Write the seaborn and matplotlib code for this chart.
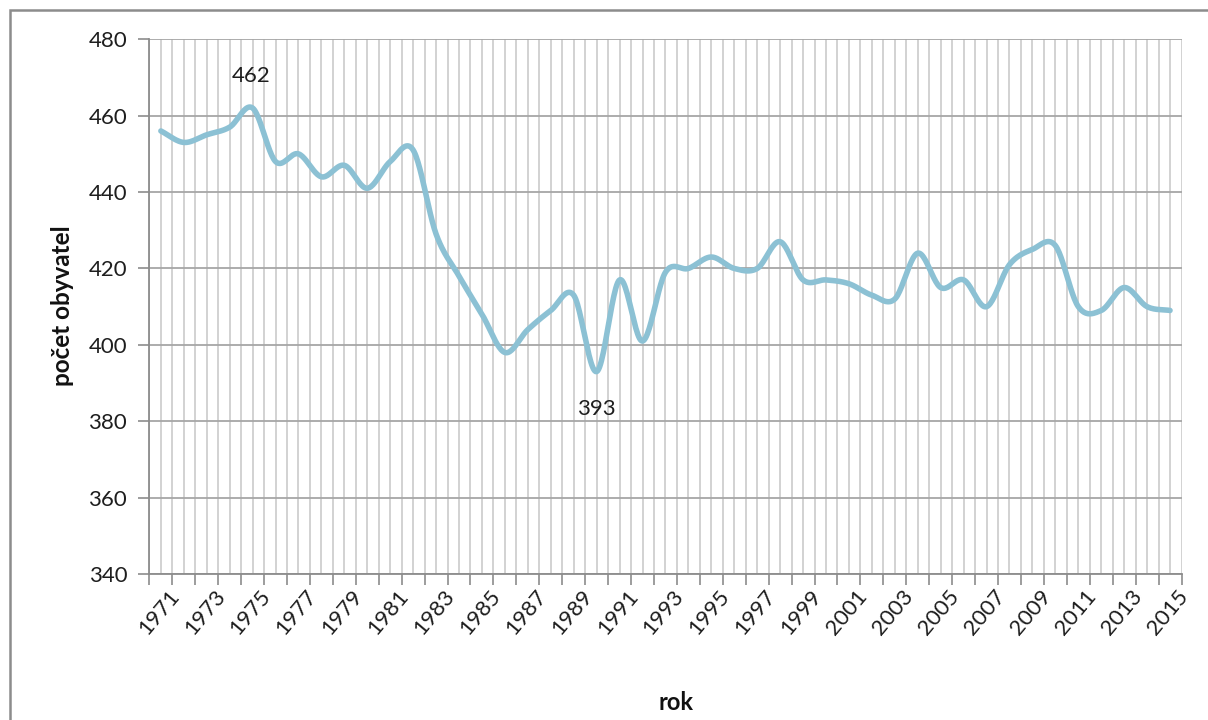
import numpy as np
import pandas as pd
import matplotlib
matplotlib.use("Agg")
import matplotlib.pyplot as plt
import matplotlib.patches as patches
import matplotlib.transforms as mtransforms
import seaborn as sns

# population of the village per year
years = list(range(1971, 2016))
population = [
    456, 453, 455, 457, 462, 448, 450, 444, 447, 441,
    448, 451, 429, 418, 408, 398, 404, 409, 413, 393,
    417, 401, 419, 420, 423, 420, 420, 427, 417, 417,
    416, 413, 412, 424, 415, 417, 410, 421, 425, 426,
    410, 409, 415, 410, 409,
]
y_ticks = [340, 360, 380, 400, 420, 440, 460, 480]
label_years = years[::2]

LINE_COLOR = "#8cc1d4"
GRID_DARK = "#a6a6a6"
GRID_LIGHT = "#cfcfcf"
AXIS_GRAY = "#8c8c8c"
TEXT = "#1e1e1e"


def smooth_line(x, y, n=24):
    """Excel-like smoothed line (cubic Hermite / Catmull-Rom through the points)."""
    x = np.asarray(x, dtype=float)
    y = np.asarray(y, dtype=float)
    m = np.gradient(y)
    t = np.linspace(0, 1, n, endpoint=False)
    h00 = 2 * t**3 - 3 * t**2 + 1
    h10 = t**3 - 2 * t**2 + t
    h01 = -2 * t**3 + 3 * t**2
    h11 = t**3 - t**2
    xs, ys = [], []
    for i in range(len(x) - 1):
        xs.append(x[i] + t * (x[i + 1] - x[i]))
        ys.append(h00 * y[i] + h10 * m[i] + h01 * y[i + 1] + h11 * m[i + 1])
    xs.append([x[-1]])
    ys.append([y[-1]])
    return np.concatenate(xs), np.concatenate(ys)


sns.set_theme(style="white")
plt.rcParams["font.family"] = ["Lato", "DejaVu Sans"]

fig = plt.figure(figsize=(12.08, 7.2), dpi=100)
ax = fig.add_axes([149.4 / 1208, 1 - 574 / 720, (1181.5 - 149.4) / 1208, (574 - 39.3) / 720])

# gridlines: every half category vertically, every 20 horizontally
for gx in np.arange(years[0] - 0.5, years[-1] + 0.51, 0.5):
    ax.axvline(gx, color=GRID_LIGHT, lw=1.3, zorder=0)
for gy in y_ticks:
    ax.axhline(gy, color=GRID_DARK, lw=1.3, zorder=0)

sx, sy = smooth_line(years, population)
curve = pd.DataFrame({"rok": sx, "obyvatel": sy})
sns.lineplot(data=curve, x="rok", y="obyvatel", color=LINE_COLOR, lw=4.0,
             ax=ax, zorder=3, solid_capstyle="round")

# labels for max / min
i_max = int(np.argmax(population))
i_min = int(np.argmin(population))
ax.annotate(str(population[i_max]), xy=(years[i_max], population[i_max]),
            xytext=(-1, 23), textcoords="offset points", ha="center", va="center",
            fontsize=16, color=TEXT)
ax.annotate(str(population[i_min]), xy=(years[i_min], population[i_min]),
            xytext=(0, -27), textcoords="offset points", ha="center", va="center",
            fontsize=16, color=TEXT)

ax.set_xlim(years[0] - 0.5, years[-1] + 0.5)
ax.set_ylim(y_ticks[0], y_ticks[-1])
ax.set_yticks(y_ticks)
ax.set_yticklabels([str(v) for v in y_ticks], fontsize=16, color=TEXT)

# tick marks between categories, labels on every second year
ax.set_xticks(np.arange(years[0] - 0.5, years[-1] + 0.51, 1.0))
ax.set_xticklabels([])
ax.set_xticks(label_years, minor=True)
ax.set_xticklabels([str(v) for v in label_years], minor=True, fontsize=16,
                   color=TEXT, rotation=50, ha="right", rotation_mode="anchor")
ax.tick_params(axis="x", which="major", length=8, width=1.2, color=AXIS_GRAY,
               direction="out", bottom=True)
ax.tick_params(axis="x", which="minor", length=0, pad=9, bottom=True)
ax.tick_params(axis="y", length=8, width=1.2, color=AXIS_GRAY, direction="out",
               left=True, pad=8)
shift = mtransforms.ScaledTranslation(7 / 100, 0, fig.dpi_scale_trans)
for lab in ax.get_xticklabels(minor=True):
    lab.set_transform(lab.get_transform() + shift)

for side in ["top", "right"]:
    ax.spines[side].set_visible(False)
for side in ["left", "bottom"]:
    ax.spines[side].set_color(AXIS_GRAY)
    ax.spines[side].set_linewidth(1.3)

ax.set_xlabel("")
ax.set_ylabel("")
fig.text(62 / 1208, 1 - 306 / 720, "počet obyvatel", rotation=90, ha="center",
         va="center", fontsize=17.5, fontweight="bold", color="#111111")
fig.text(676 / 1208, 1 - 703 / 720, "rok", ha="center", va="center",
         fontsize=17, fontweight="bold", color="#111111")

# chart-area border (runs off the bottom / right of the image)
fig.patches.append(patches.Rectangle((10 / 1208, -0.05), 1.2, 1 - 10 / 720 + 0.05,
                                     transform=fig.transFigure, fill=False,
                                     edgecolor=AXIS_GRAY, lw=1.8, zorder=0))

fig.savefig("out.png", dpi=100)
